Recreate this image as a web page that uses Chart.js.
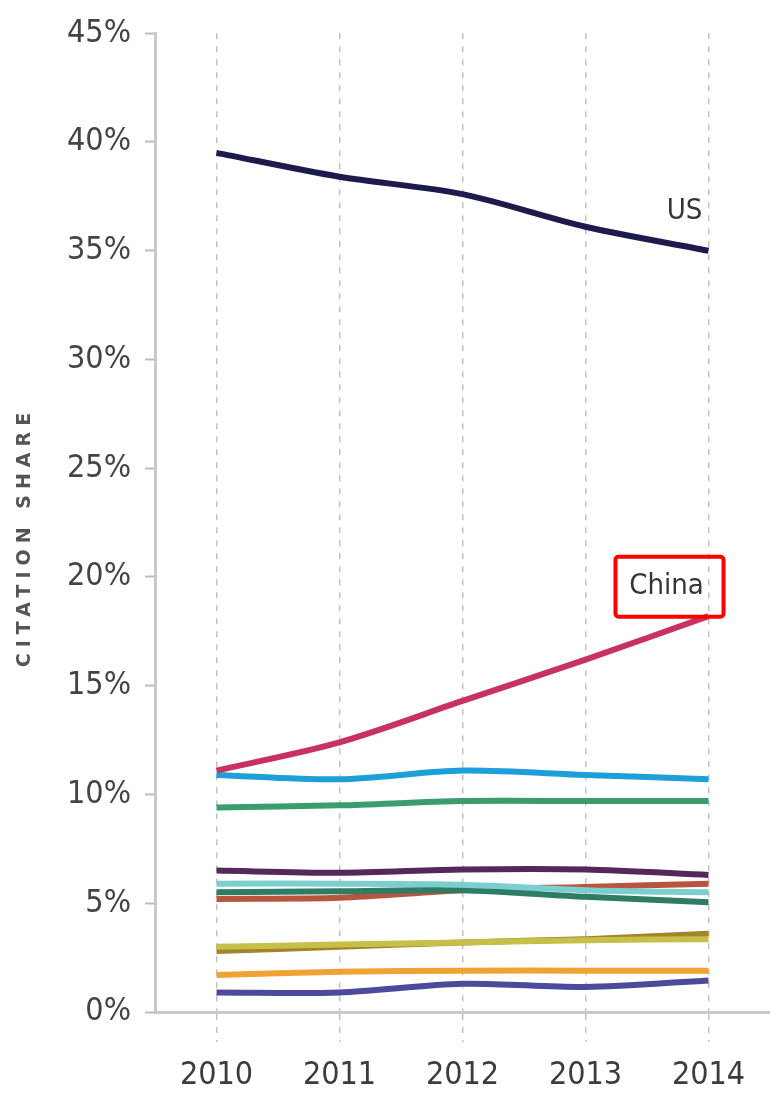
<!DOCTYPE html>
<html>
<head>
<meta charset="utf-8">
<script src="https://cdn.jsdelivr.net/npm/chart.js@4.4.1/dist/chart.umd.min.js"></script>
<style>
  html, body { margin: 0; padding: 0; background: #fff; }
  #wrap { width: 770px; height: 1094px; }
</style>
</head>
<body>
<div id="wrap"><canvas id="share" width="770" height="1094"></canvas></div>
<script>
// citation share by year, in percent
const years = ['2010', '2011', '2012', '2013', '2014'];
const usShare = [39.5, 38.4, 37.6, 36.1, 35.0];
const chinaShare = [11.1, 12.4, 14.3, 16.2, 18.2];
const blueShare = [10.9, 10.7, 11.1, 10.9, 10.7];
const greenShare = [9.4, 9.5, 9.7, 9.7, 9.7];
const purpleShare = [6.5, 6.4, 6.55, 6.55, 6.3];
const aquaShare = [5.9, 5.9, 5.85, 5.6, 5.5];
const tealShare = [5.5, 5.55, 5.6, 5.3, 5.05];
const rustShare = [5.2, 5.25, 5.6, 5.75, 5.9];
const oliveShare = [3.0, 3.1, 3.2, 3.3, 3.35];
const goldShare = [2.8, 3.0, 3.2, 3.35, 3.6];
const orangeShare = [1.7, 1.85, 1.9, 1.9, 1.9];
const indigoShare = [0.9, 0.9, 1.3, 1.15, 1.45];
const yTicks = [0, 5, 10, 15, 20, 25, 30, 35, 40, 45];

const FONT = "'DejaVu Sans Condensed', 'DejaVu Sans', sans-serif";

function line(label, data, color) {
    return {
        label, data,
        borderColor: color,
        borderWidth: 6,
        pointRadius: 0,
        tension: 0.3,
        fill: false
    };
}

// text labels, the highlight box and the rotated axis title
const notes = {
    id: 'notes',
    afterDraw(chart) {
        const { ctx, scales: { x, y } } = chart;
        ctx.save();
        ctx.fillStyle = '#363636';
        ctx.font = '29px ' + FONT;
        ctx.textAlign = 'center';
        ctx.textBaseline = 'middle';
        ctx.fillText('US', x.getPixelForValue(4) - 24, y.getPixelForValue(36.8));

        const cx = x.getPixelForValue(4) - 42;
        const cy = y.getPixelForValue(19.55);
        ctx.fillText('China', cx, cy);
        ctx.strokeStyle = '#ff0000';
        ctx.lineWidth = 4;
        ctx.beginPath();
        ctx.roundRect(cx - 51, cy - 30, 108, 60, 3);
        ctx.stroke();

        ctx.translate(25, y.getPixelForValue(21.7));
        ctx.rotate(-Math.PI / 2);
        ctx.fillStyle = '#555';
        ctx.font = "bold 19px 'DejaVu Sans', sans-serif";
        ctx.letterSpacing = '6px';
        ctx.fillText('CITATION SHARE', 3, 0);
        ctx.restore();
    }
};

new Chart(document.getElementById('share'), {
    type: 'line',
    data: {
        labels: years,
        datasets: [
            line('US', usShare, '#1d1b4c'),
            line('China', chinaShare, '#c7325f'),
            line('Blue', blueShare, '#1f9fd9'),
            line('Green', greenShare, '#3b9d6c'),
            line('Purple', purpleShare, '#55275a'),
            line('Aqua', aquaShare, '#7ccfcf'),
            line('Teal', tealShare, '#2e7b66'),
            line('Rust', rustShare, '#b8553e'),
            line('Olive', oliveShare, '#c6bf48'),
            line('Gold', goldShare, '#a3832b'),
            line('Orange', orangeShare, '#f0a232'),
            line('Indigo', indigoShare, '#4b4a9c')
        ]
    },
    options: {
        responsive: false,
        animation: false,
        devicePixelRatio: 1,
        layout: { padding: { top: 30, right: -4, bottom: 0, left: 0 } },
        plugins: { legend: { display: false }, tooltip: { enabled: false } },
        scales: {
            x: {
                type: 'category',
                offset: true,
                afterFit(scale) { scale.height = 82; },
                grid: {
                    offset: false,
                    color: '#c2c2c2',
                    lineWidth: 1.5,
                    tickLength: 30,
                    tickBorderDash: [6, 7],
                    tickColor: '#c2c2c2'
                },
                border: { display: true, color: '#c9c9c9', width: 3, dash: [6, 7] },
                ticks: {
                    color: '#3c3c3c',
                    padding: 14,
                    font: { family: FONT, size: 32 }
                }
            },
            y: {
                min: 0,
                max: 45,
                afterFit(scale) { scale.width = 155; },
                afterBuildTicks(scale) { scale.ticks = yTicks.map(v => ({ value: v })); },
                grid: {
                    drawOnChartArea: false,
                    tickLength: 10,
                    tickColor: '#bdbdbd',
                    tickWidth: 2
                },
                border: { display: true, color: '#c9c9c9', width: 3 },
                ticks: {
                    color: '#444',
                    padding: 14,
                    font: { family: FONT, size: 32 },
                    callback: v => v + '%'
                }
            }
        }
    },
    plugins: [notes]
});
</script>
</body>
</html>
